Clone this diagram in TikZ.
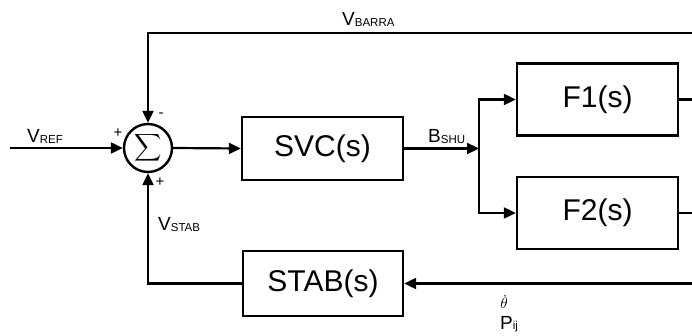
\documentclass[tikz,border=0pt]{standalone}
\usepackage{graphicx}
\usepackage{fontspec}
\setmainfont{Liberation Sans}
\usetikzlibrary{arrows.meta}
\newcommand{\mysub}[1]{\raisebox{-0.5pt}{\fontsize{11.5}{13}\selectfont #1}}
\begin{document}
\begin{tikzpicture}[x=1pt,y=-1pt,
  wire/.style={line width=2.2pt},
  arr/.style={wire,-{Triangle[length=12pt,width=11pt]}},
  blockbox/.style={draw,line width=2.4pt,inner sep=0pt,font=\fontsize{30}{34}\selectfont},
  lbl/.style={inner sep=0pt,anchor=base west,font=\fontsize{19}{22}\selectfont},
  sgn/.style={inner sep=0pt,font=\fontsize{15}{18}\selectfont}]
\useasboundingbox (0,0) rectangle (692,336);
% blocks
\node[draw,circle,line width=2.4pt,minimum size=48pt,inner sep=0pt] (sum) at (148,148) {\scalebox{1.9}{$\displaystyle\sum$}};
\node[blockbox,minimum width=161pt,minimum height=63pt] (svc) at (322.5,148.5) {SVC(s)};
\node[blockbox,minimum width=161pt,minimum height=72pt] (f1) at (597.5,99.5) {F1(s)};
\node[blockbox,minimum width=161pt,minimum height=72pt] (f2) at (597.5,213) {F2(s)};
\node[blockbox,minimum width=160pt,minimum height=65pt] (stab) at (323,283.5) {STAB(s)};
% coordinates
\coordinate (in) at (10,148);
\coordinate (jn) at (479,148.5);
\coordinate (topR) at (692,33);
\coordinate (topL) at (148,33);
\coordinate (f1R) at (692,99.5);
\coordinate (f2R) at (692,213);
\coordinate (botR) at (692,283.5);
\coordinate (botL) at (148,283.5);
% connectors
\draw[arr] (in) -- (sum.west);
\draw[arr] (sum.east) -- (svc.west);
\draw[arr] (svc.east) -- (jn);
\draw[arr] (jn) |- (f1.west);
\draw[arr] (jn) |- (f2.west);
\draw[wire] (f1.east) -- (f1R);
\draw[wire] (f2.east) -- (f2R);
\draw[arr] (topR) -- (topL) -- (sum.north);
\draw[arr] (botR) -- (stab.east);
\draw[arr] (stab.west) -- (botL) -- (sum.south);
% labels
\node[lbl] (vref) at (27,143) {V\mysub{REF}};
\node[lbl] (vbarra) at (342,26) {V\mysub{BARRA}};
\node[lbl] (bshu) at (428,143) {B\mysub{SHU}};
\node[lbl] (vstab) at (158,231) {V\mysub{STAB}};
\node[lbl] (pij) at (500,329) {P\mysub{ij}};
\node[inner sep=0pt] (thd) at (504,302) {\scalebox{1.5}{$\dot{\theta}$}};
\node[sgn] (s1) at (118,133) {+};
\node[sgn] (s2) at (161,115) {-};
\node[sgn] (s3) at (160,182) {+};
\end{tikzpicture}
\end{document}
